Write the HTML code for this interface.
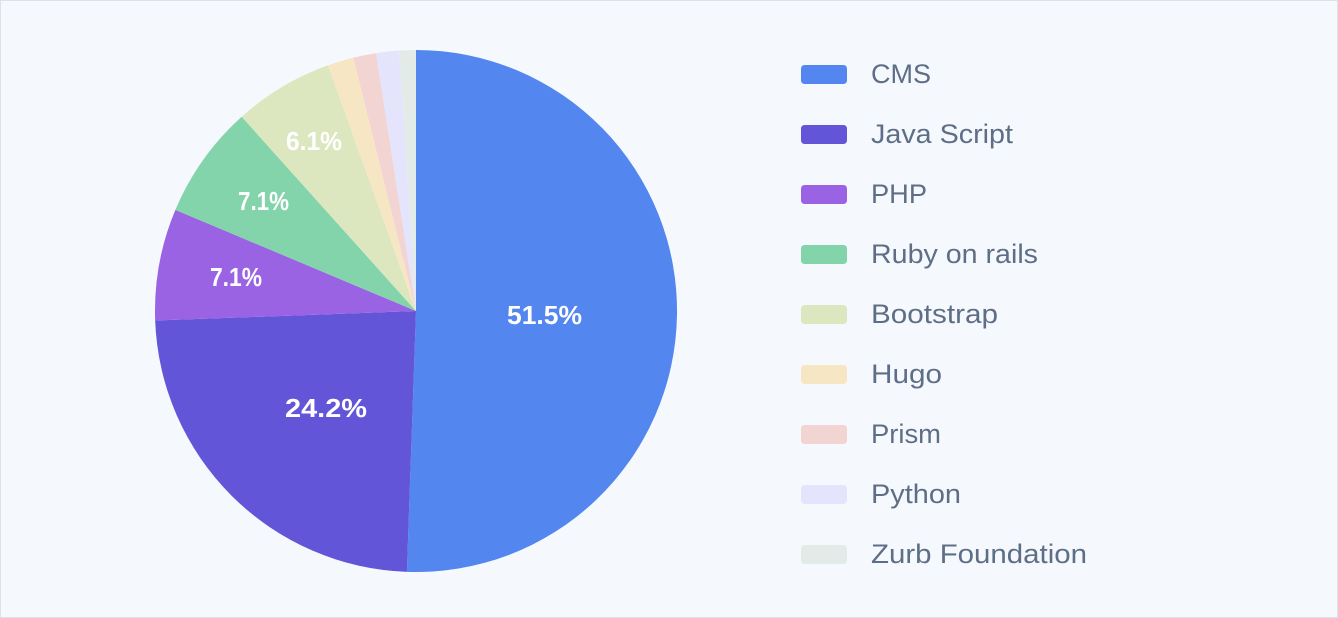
<!DOCTYPE html>
<html>
<head>
<meta charset="utf-8">
<style>
html,body{margin:0;padding:0;}
body{width:1338px;height:618px;overflow:hidden;background:#f5f9fe;}
svg{display:block;}
</style>
</head>
<body>
<svg width="1338" height="618" viewBox="0 0 1338 618" xmlns="http://www.w3.org/2000/svg">
  <rect x="0.5" y="0.5" width="1337" height="617" fill="#f5f9fe" stroke="#dde2e8" stroke-width="1"/>
  <g>
    <path d="M416,311 L416,50 A261,261 0 1 1 406.89,571.84 Z" fill="#5486ef"/>
    <path d="M416,311 L406.89,571.84 A261,261 0 0 1 155.17,320.56 Z" fill="#6355d8"/>
    <path d="M416,311 L155.17,320.56 A261,261 0 0 1 175.39,209.86 Z" fill="#9963e4"/>
    <path d="M416,311 L175.39,209.86 A261,261 0 0 1 241.70,116.73 Z" fill="#83d4aa"/>
    <path d="M416,311 L241.70,116.73 A261,261 0 0 1 328.02,65.28 Z" fill="#dde7bf"/>
    <path d="M416,311 L328.02,65.28 A261,261 0 0 1 353.30,57.64 Z" fill="#f7e6c4"/>
    <path d="M416,311 L353.30,57.64 A261,261 0 0 1 376.07,53.07 Z" fill="#f2d4d2"/>
    <path d="M416,311 L376.07,53.07 A261,261 0 0 1 399.16,50.54 Z" fill="#e4e4fc"/>
    <path d="M416,311 L399.16,50.54 A261,261 0 0 1 416,50 Z" fill="#e2ebe8"/>
  </g>
  <g font-family="'Liberation Sans', Arial, sans-serif" font-weight="bold" font-size="26" fill="#ffffff">
    <text x="507" y="324" textLength="75" lengthAdjust="spacingAndGlyphs">51.5%</text>
    <text x="285" y="417" textLength="82" lengthAdjust="spacingAndGlyphs">24.2%</text>
    <text x="210" y="286" textLength="52" lengthAdjust="spacingAndGlyphs">7.1%</text>
    <text x="238" y="210" textLength="51" lengthAdjust="spacingAndGlyphs">7.1%</text>
    <text x="286" y="150" textLength="56" lengthAdjust="spacingAndGlyphs">6.1%</text>
  </g>
  <g>
    <rect x="801" y="65" width="46" height="19" rx="3.5" fill="#5486ef"/>
    <rect x="801" y="125" width="46" height="19" rx="3.5" fill="#6355d8"/>
    <rect x="801" y="185" width="46" height="19" rx="3.5" fill="#9963e4"/>
    <rect x="801" y="245" width="46" height="19" rx="3.5" fill="#83d4aa"/>
    <rect x="801" y="305" width="46" height="19" rx="3.5" fill="#dde7bf"/>
    <rect x="801" y="365" width="46" height="19" rx="3.5" fill="#f7e6c4"/>
    <rect x="801" y="425" width="46" height="19" rx="3.5" fill="#f2d4d2"/>
    <rect x="801" y="485" width="46" height="19" rx="3.5" fill="#e4e4fc"/>
    <rect x="801" y="545" width="46" height="19" rx="3.5" fill="#e2ebe8"/>
  </g>
  <g font-family="'Liberation Sans', Arial, sans-serif" font-size="27" fill="#5e6e86">
    <text x="871" y="83" textLength="60" lengthAdjust="spacingAndGlyphs">CMS</text>
    <text x="871" y="143" textLength="142" lengthAdjust="spacingAndGlyphs">Java Script</text>
    <text x="871" y="203" textLength="56" lengthAdjust="spacingAndGlyphs">PHP</text>
    <text x="871" y="263" textLength="167" lengthAdjust="spacingAndGlyphs">Ruby on rails</text>
    <text x="871" y="323" textLength="127" lengthAdjust="spacingAndGlyphs">Bootstrap</text>
    <text x="871" y="383" textLength="71" lengthAdjust="spacingAndGlyphs">Hugo</text>
    <text x="871" y="443" textLength="70" lengthAdjust="spacingAndGlyphs">Prism</text>
    <text x="871" y="503" textLength="90" lengthAdjust="spacingAndGlyphs">Python</text>
    <text x="871" y="563" textLength="216" lengthAdjust="spacingAndGlyphs">Zurb Foundation</text>
  </g>
</svg>
</body>
</html>
